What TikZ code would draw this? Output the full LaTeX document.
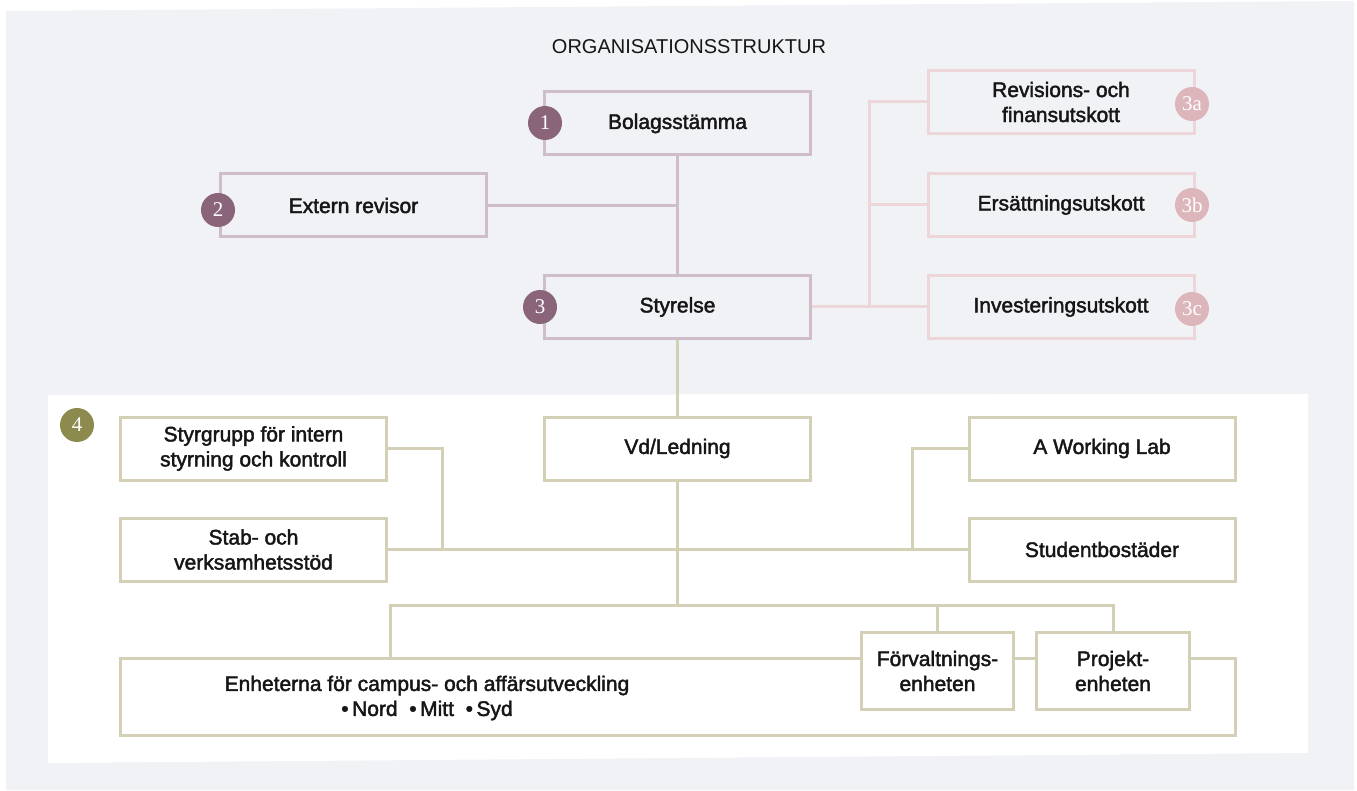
\documentclass[tikz,border=0pt]{standalone}
\usepackage{fontspec}
\setmainfont{Liberation Sans}
\newfontfamily\medfont{Liberation Sans}[FakeBold=2]
\newfontfamily\numfont{Liberation Serif}
\definecolor{bg}{HTML}{F1F2F6}
\definecolor{mauve}{HTML}{CFBDCA}
\definecolor{pinkline}{HTML}{EDD6D9}
\definecolor{pinkbadge}{HTML}{DDB6BB}
\definecolor{darkbadge}{HTML}{8A6479}
\definecolor{olive}{HTML}{D3D0B5}
\definecolor{olivebadge}{HTML}{8C8A4C}
\definecolor{txt}{HTML}{161616}
\tikzset{
  box/.style={draw, line width=3, minimum width=266, minimum height=63, align=center, inner sep=0, text=txt, font=\medfont\fontsize{21}{25}\selectfont},
  upbox/.style={box, draw=mauve},
  combox/.style={box, draw=pinkline},
  lowbox/.style={box, draw=olive, fill=white},
  badge/.style={circle, minimum size=34, inner sep=0, text=white, font=\numfont\fontsize{21}{21}\selectfont},
  upline/.style={draw=mauve, line width=3},
  comline/.style={draw=pinkline, line width=3},
  lowline/.style={draw=olive, line width=3},
}
\begin{document}
\begin{tikzpicture}[x=1pt,y=-1pt]
\useasboundingbox (0,0) rectangle (1357,791);
\fill[white] (0,0) rectangle (1357,791);
\fill[bg] (6,11) -- (1354,1) -- (1354,790) -- (6,790) -- cycle;
\fill[white] (48,395) -- (1308,394) -- (1308,753) -- (48,763) -- cycle;

\node[font=\fontsize{20}{22}\selectfont, text=txt] (title) at (689,47) {ORGANISATIONSSTRUKTUR};

% upper part
\node[upbox] (bol) at (677.5,123.5) {Bolagsstämma};
\node[upbox] (ext) at (353.5,205.5) {Extern revisor};
\node[upbox] (sty) at (677.5,307) {Styrelse};
\node[combox] (rev) at (1061,102) {Revisions- och\\finansutskott};
\node[combox] (ers) at (1061,205) {Ersättningsutskott};
\node[combox] (inv) at (1061,307) {Investeringsutskott};

\draw[upline] (bol.south) -- (sty.north);
\draw[upline] (ext.east) -- (ext.east -| bol.south);
\draw[comline] (sty.east) -- (inv.west);
\draw[comline] (sty.east) -- ++(57,0) |- (rev.west);
\draw[comline] (sty.east) -- ++(57,0) |- (ers.west);

% lower part
\node[lowbox] (vd) at (677.5,448.5) {Vd/Ledning};
\node[lowbox] (stg) at (253.5,448.5) {Styrgrupp för intern\\styrning och kontroll};
\node[lowbox] (stab) at (253.5,549.5) {Stab- och\\verksamhetsstöd};
\node[lowbox] (awl) at (1102,448.5) {A Working Lab};
\node[lowbox] (stud) at (1102,549.5) {Studentbostäder};
\node[lowbox, minimum width=1115, minimum height=77] (enh) at (678,697) {};

\draw[lowline] (sty.south) -- (vd.north);
\draw[lowline] (stab.east) -- (stud.west);
\draw[lowline] (stg.east) -- ++(54,0) |- (stab.east);
\draw[lowline] (awl.west) -- ++(-55,0) |- (stud.west);
\coordinate (hub) at (677.5,605);
\coordinate (hubl) at (390,605);
\draw[lowline] (vd.south) -- (hub);
\draw[lowline] (hub) -- (hubl) -- (hubl |- enh.north);

\node[lowbox, minimum width=152, minimum height=77] (forv) at (937.5,671) {Förvaltnings-\\enheten};
\node[lowbox, minimum width=153, minimum height=77] (proj) at (1113,671) {Projekt-\\enheten};
\draw[lowline] (hub) -- (hub -| proj.north) -- (proj.north);
\draw[lowline] (hub -| forv.north) -- (forv.north);

\node[text=txt, font=\medfont\fontsize{21}{25}\selectfont, align=center] (enhtxt) at (427,698) {Enheterna för campus- och affärsutveckling\\•\,Nord \ •\,Mitt \ •\,Syd};

% badges
\node[badge, fill=darkbadge] (b1) at (545,123) {1};
\node[badge, fill=darkbadge] (b2) at (218,210) {2};
\node[badge, fill=darkbadge] (b3) at (540,307) {3};
\node[badge, fill=pinkbadge] (b3a) at (1192,104) {3a};
\node[badge, fill=pinkbadge] (b3b) at (1192,205) {3b};
\node[badge, fill=pinkbadge] (b3c) at (1192,309) {3c};
\node[badge, fill=olivebadge] (b4) at (77,425) {4};
\end{tikzpicture}
\end{document}
